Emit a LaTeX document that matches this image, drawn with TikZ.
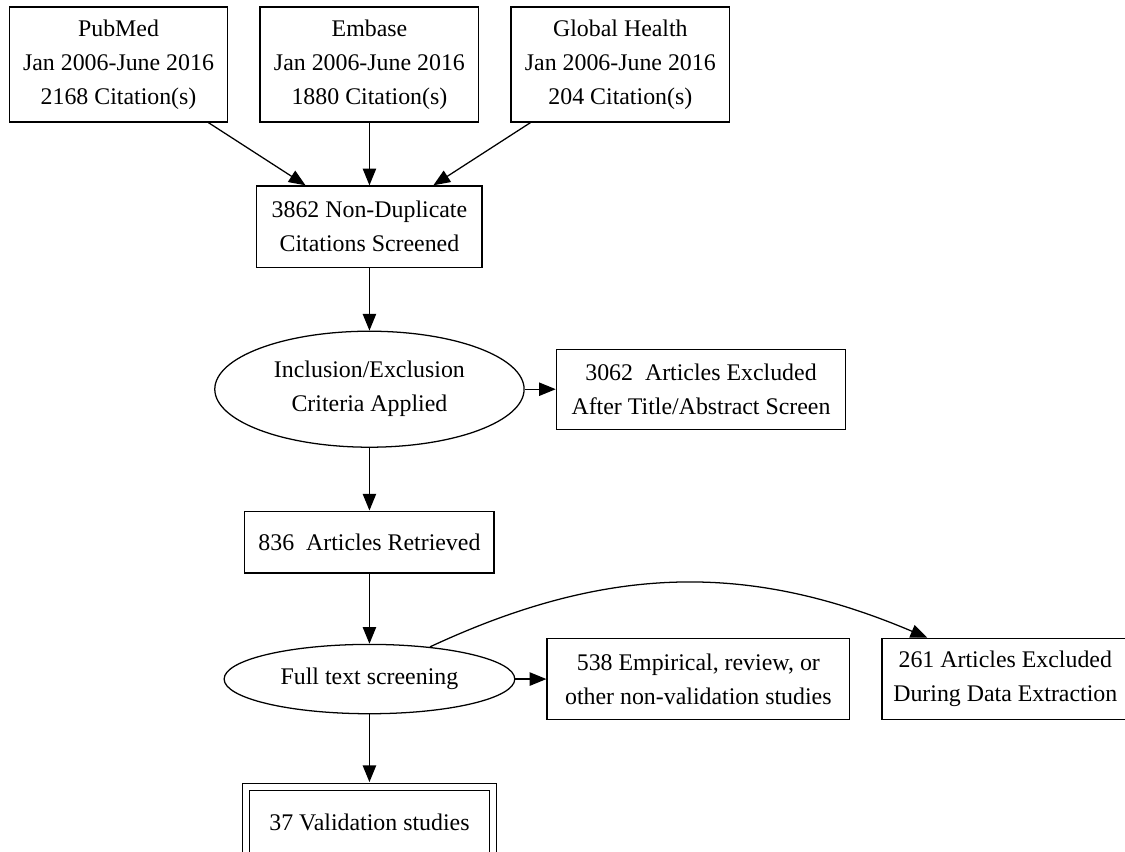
\documentclass[tikz,border=0pt]{standalone}
\usepackage{fontspec}
\setmainfont{Liberation Serif}
\usetikzlibrary{arrows.meta,positioning,shapes.geometric}

\begin{document}
\begin{tikzpicture}[
        node distance=47pt and 23.25pt,
        box/.style={
          draw,
          minimum width=164pt,
          minimum height=86.25pt,
          align=center,
          inner sep=2pt,
          line width=0.95pt,
          font=\fontsize{17.9}{25.5}\selectfont
        },
        oval/.style={
          box,
          ellipse
        },
        arrow/.style={
          -{Triangle[length=12.5pt,width=10pt]},
          line width=0.95pt
        }
      ]

      \useasboundingbox (-88.9pt,48.4pt) rectangle (754.9pt,-590.6pt);

      \node[box] (pubmed) {PubMed\\Jan 2006-June 2016\\2168 Citation(s)};
      \node[box, right=of pubmed] (embase) {Embase\\Jan 2006-June 2016\\1880 Citation(s)};
      \node[box, right=of embase] (globalh) {Global Health\\Jan 2006-June 2016\\204 Citation(s)};
      \node[box, below=of embase, minimum width=169pt, minimum height=61pt] (nondup) {3862 Non-Duplicate\\Citations Screened};
      \node[oval, below=of nondup, minimum width=232pt, minimum height=87pt] (criteria) {Inclusion/Exclusion\\Criteria Applied};
      \node[box, right=of criteria, minimum width=217pt, minimum height=60pt] (excluded) {3062\ \ Articles Excluded\\After Title/Abstract Screen};
      \node[box, below=of criteria, minimum width=187pt, minimum height=46.5pt] (retrieved) {836\ \ Articles Retrieved};
      \node[oval, below=52.5pt of retrieved, minimum width=218pt, minimum height=52pt] (fulltext) {Full text screening};
      \node[box, right=of fulltext, minimum width=227pt, minimum height=61pt] (nonvalid) {538 Empirical, review, or\\other non-validation studies};
      \node[box, right=of nonvalid, minimum width=185pt, minimum height=61pt] (extraction) {261 Articles Excluded\\During Data Extraction};
      \node[box, below=54pt of fulltext, double, double distance=4.5pt, minimum width=185pt, minimum height=52.5pt] (validation) {37 Validation studies};

      \draw[arrow] (pubmed) -- (nondup);
      \draw[arrow] (embase) -- (nondup);
      \draw[arrow] (globalh) -- (nondup);
      \draw[arrow] (nondup) -- (criteria);
      \draw[arrow] (criteria) -- (excluded);
      \draw[arrow] (criteria) -- (retrieved);
      \draw[arrow] (retrieved) -- (fulltext);
      \draw[arrow] (fulltext) -- (nonvalid);
      \draw[arrow] (fulltext.28) to[out=25, in=157] ([xshift=-58.5pt]extraction.north);
      \draw[arrow, shorten >=3.2pt] (fulltext) -- (validation);

      \end{tikzpicture}
\end{document}
